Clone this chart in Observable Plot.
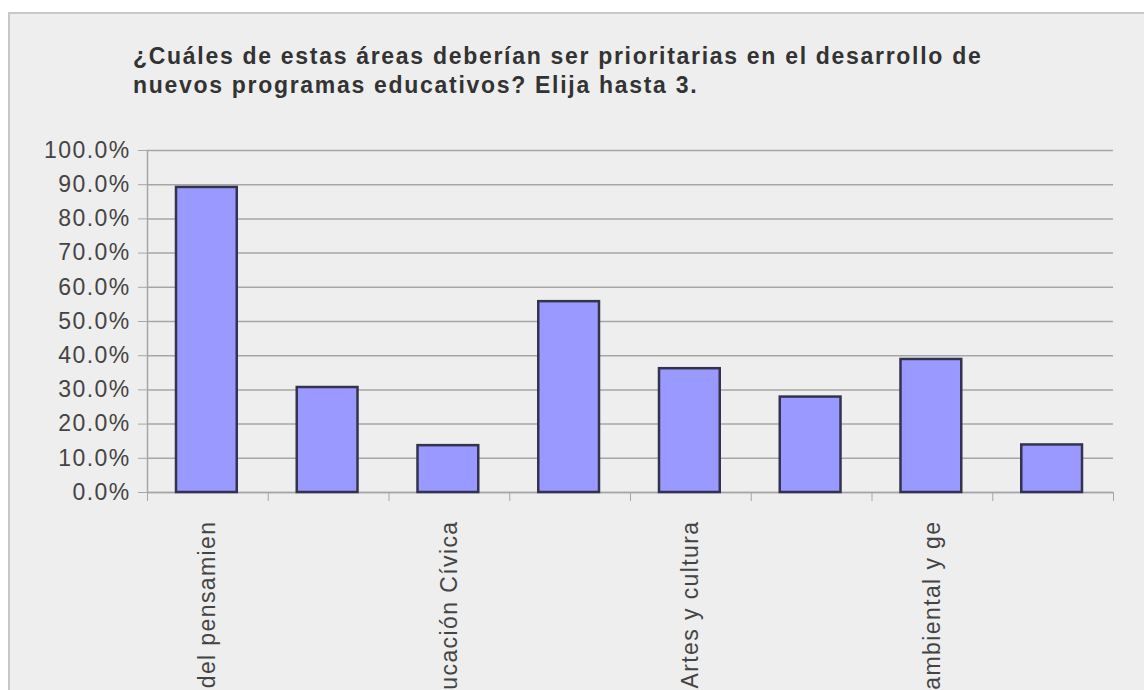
<!DOCTYPE html>
<html>
<head>
<meta charset="utf-8">
<script src="https://cdn.jsdelivr.net/npm/d3@7"></script>
<script src="https://cdn.jsdelivr.net/npm/@observablehq/plot@0.6"></script>
<style>
  html, body { margin: 0; padding: 0; background: #ffffff; }
  #wrap { position: relative; width: 1144px; height: 690px; overflow: hidden; background: #ffffff; }
  #frame { position: absolute; left: 8px; top: 12px; width: 1200px; height: 700px; background: #eeeeee;
           border-top: 2px solid #c8c8c8; border-left: 2px solid #c8c8c8; }
  #title { position: absolute; left: 133px; top: 42px; font-family: "Liberation Sans", Arial, sans-serif;
           font-weight: bold; font-size: 23px; letter-spacing: 1.7px; line-height: 29px; color: #333333; white-space: nowrap; }
  #chart { position: absolute; left: 0; top: 0; }
</style>
</head>
<body>
<div id="wrap">
  <div id="frame"></div>
  <div id="title">¿Cuáles de estas áreas deberían ser prioritarias en el desarrollo de<br>nuevos programas educativos? Elija hasta 3.</div>
  <div id="chart"></div>
</div>
<script>
// Data
const labels = ["del pensamien", "", "ucación Cívica", "", "Artes y cultura", "", "ambiental y ge", ""];
const values = [0.892, 0.307, 0.137, 0.558, 0.362, 0.279, 0.389, 0.139];
const yTicks = [0, 0.1, 0.2, 0.3, 0.4, 0.5, 0.6, 0.7, 0.8, 0.9, 1.0];

const idx = d3.range(values.length);
const rows = idx.map(i => ({i, label: labels[i], value: values[i]}));
const labelTicks = idx.filter(i => labels[i] !== "").map(i => i + 0.5);

const chart = Plot.plot({
  width: 1144,
  height: 690,
  marginTop: 150,
  marginBottom: 198,
  marginLeft: 147,
  marginRight: 31,
  style: {background: "transparent", fontFamily: "'Liberation Sans', Arial, sans-serif", color: "#444", letterSpacing: "1.4px"},
  x: {type: "linear", domain: [0, values.length]},
  y: {domain: [0, 1]},
  marks: [
    Plot.gridY(yTicks, {stroke: "#a6a6a6", strokeOpacity: 1, strokeWidth: 1.5}),
    Plot.axisY(yTicks, {tickFormat: d3.format(".1%"), tickSize: 9, tickPadding: 8, stroke: "#a6a6a6",
      fontSize: 23, fill: "#444", label: null}),
    Plot.ruleX([0], {stroke: "#a6a6a6", strokeWidth: 1.5}),
    Plot.ruleY([0], {stroke: "#a6a6a6", strokeWidth: 1.5}),
    Plot.axisX(d3.range(values.length + 1), {tickFormat: () => "", tickSize: 9, stroke: "#a6a6a6", label: null}),
    Plot.axisX(labelTicks, {tickFormat: d => labels[Math.floor(d)], tickSize: 0, tickPadding: 28,
      tickRotate: -90, fontSize: 23, fill: "#444", label: null}),
    Plot.rectY(rows, {x1: "i", x2: d => d.i + 1, y: "value", insetLeft: 29, insetRight: 31,
      fill: "#9999ff", stroke: "#33334d", strokeWidth: 2.5})
  ]
});
document.getElementById("chart").appendChild(chart);
</script>
</body>
</html>
